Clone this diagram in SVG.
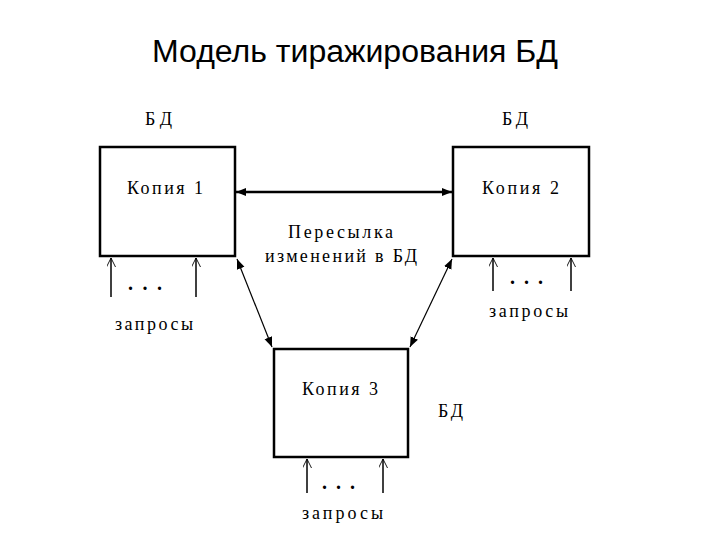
<svg xmlns="http://www.w3.org/2000/svg" width="720" height="540" viewBox="0 0 720 540">
<style>
.t{font-family:"Liberation Serif","Times New Roman",serif;font-size:18px;fill:#000}
.box{fill:#fff;stroke:#000;stroke-width:2.5}
.q{stroke:#000;stroke-width:1.5;fill:none}
.thin{stroke:#000;stroke-width:1.2;fill:none}
.dots{font-family:"Liberation Serif",serif;font-size:20px;font-weight:bold;fill:#000}
</style>
<defs>
<marker id="ah" viewBox="0 0 10 10" refX="10" refY="5" markerWidth="10" markerHeight="10" markerUnits="userSpaceOnUse" orient="auto-start-reverse">
<path d="M0,1 L10,5 L0,9 Z" fill="#000"/>
</marker>
<marker id="oa" viewBox="0 0 10 10" refX="10" refY="5" markerWidth="9" markerHeight="9" markerUnits="userSpaceOnUse" orient="auto">
<path d="M0,0 L10,5 L0,10" fill="none" stroke="#000" stroke-width="1"/>
</marker>
</defs>
<rect width="720" height="540" fill="#fff"/>
<text x="152" y="62" font-family="'Liberation Sans',Arial,sans-serif" font-size="31" textLength="406" lengthAdjust="spacingAndGlyphs">Модель тиражирования БД</text>
<g id="connectors">
<line x1="236" y1="192" x2="452" y2="192" stroke="#000" stroke-width="2.5" marker-start="url(#ah)" marker-end="url(#ah)"/>
<line class="thin" x1="237" y1="259" x2="272" y2="347" marker-start="url(#ah)" marker-end="url(#ah)"/>
<line class="thin" x1="452" y1="259" x2="410" y2="347" marker-start="url(#ah)" marker-end="url(#ah)"/>
<line class="q" x1="111" y1="297" x2="111" y2="258" marker-end="url(#oa)"/>
<line class="q" x1="196" y1="297" x2="196" y2="258" marker-end="url(#oa)"/>
<line class="q" x1="493" y1="291" x2="493" y2="258" marker-end="url(#oa)"/>
<line class="q" x1="571" y1="291" x2="571" y2="258" marker-end="url(#oa)"/>
<line class="q" x1="307" y1="493" x2="307" y2="459" marker-end="url(#oa)"/>
<line class="q" x1="383" y1="493" x2="383" y2="459" marker-end="url(#oa)"/>
</g>
<g id="copy1">
<rect class="box" x="100" y="147" width="135" height="109"/>
<text class="t" x="127" y="194" textLength="76" lengthAdjust="spacing">Копия 1</text>
<text class="t" x="145" y="125" textLength="27" lengthAdjust="spacing">БД</text>
<text class="dots" x="128" y="290" textLength="34" lengthAdjust="spacing">. . .</text>
<text class="t" x="115" y="330" textLength="78" lengthAdjust="spacing">запросы</text>
</g>
<g id="copy2">
<rect class="box" x="453" y="147" width="136" height="109"/>
<text class="t" x="482" y="194" textLength="77" lengthAdjust="spacing">Копия 2</text>
<text class="t" x="502" y="125" textLength="26" lengthAdjust="spacing">БД</text>
<text class="dots" x="510" y="284" textLength="33" lengthAdjust="spacing">. . .</text>
<text class="t" x="489" y="317" textLength="79" lengthAdjust="spacing">запросы</text>
</g>
<g id="copy3">
<rect class="box" x="274" y="349" width="134" height="108"/>
<text class="t" x="302" y="395" textLength="76" lengthAdjust="spacing">Копия 3</text>
<text class="t" x="438" y="417" textLength="25" lengthAdjust="spacing">БД</text>
<text class="dots" x="322" y="489" textLength="33" lengthAdjust="spacing">. . .</text>
<text class="t" x="302" y="519" textLength="81" lengthAdjust="spacing">запросы</text>
</g>
<g id="label">
<text class="t" x="288" y="238" textLength="105" lengthAdjust="spacing">Пересылка</text>
<text class="t" x="265" y="262" textLength="152" lengthAdjust="spacing">изменений в БД</text>
</g>
</svg>
